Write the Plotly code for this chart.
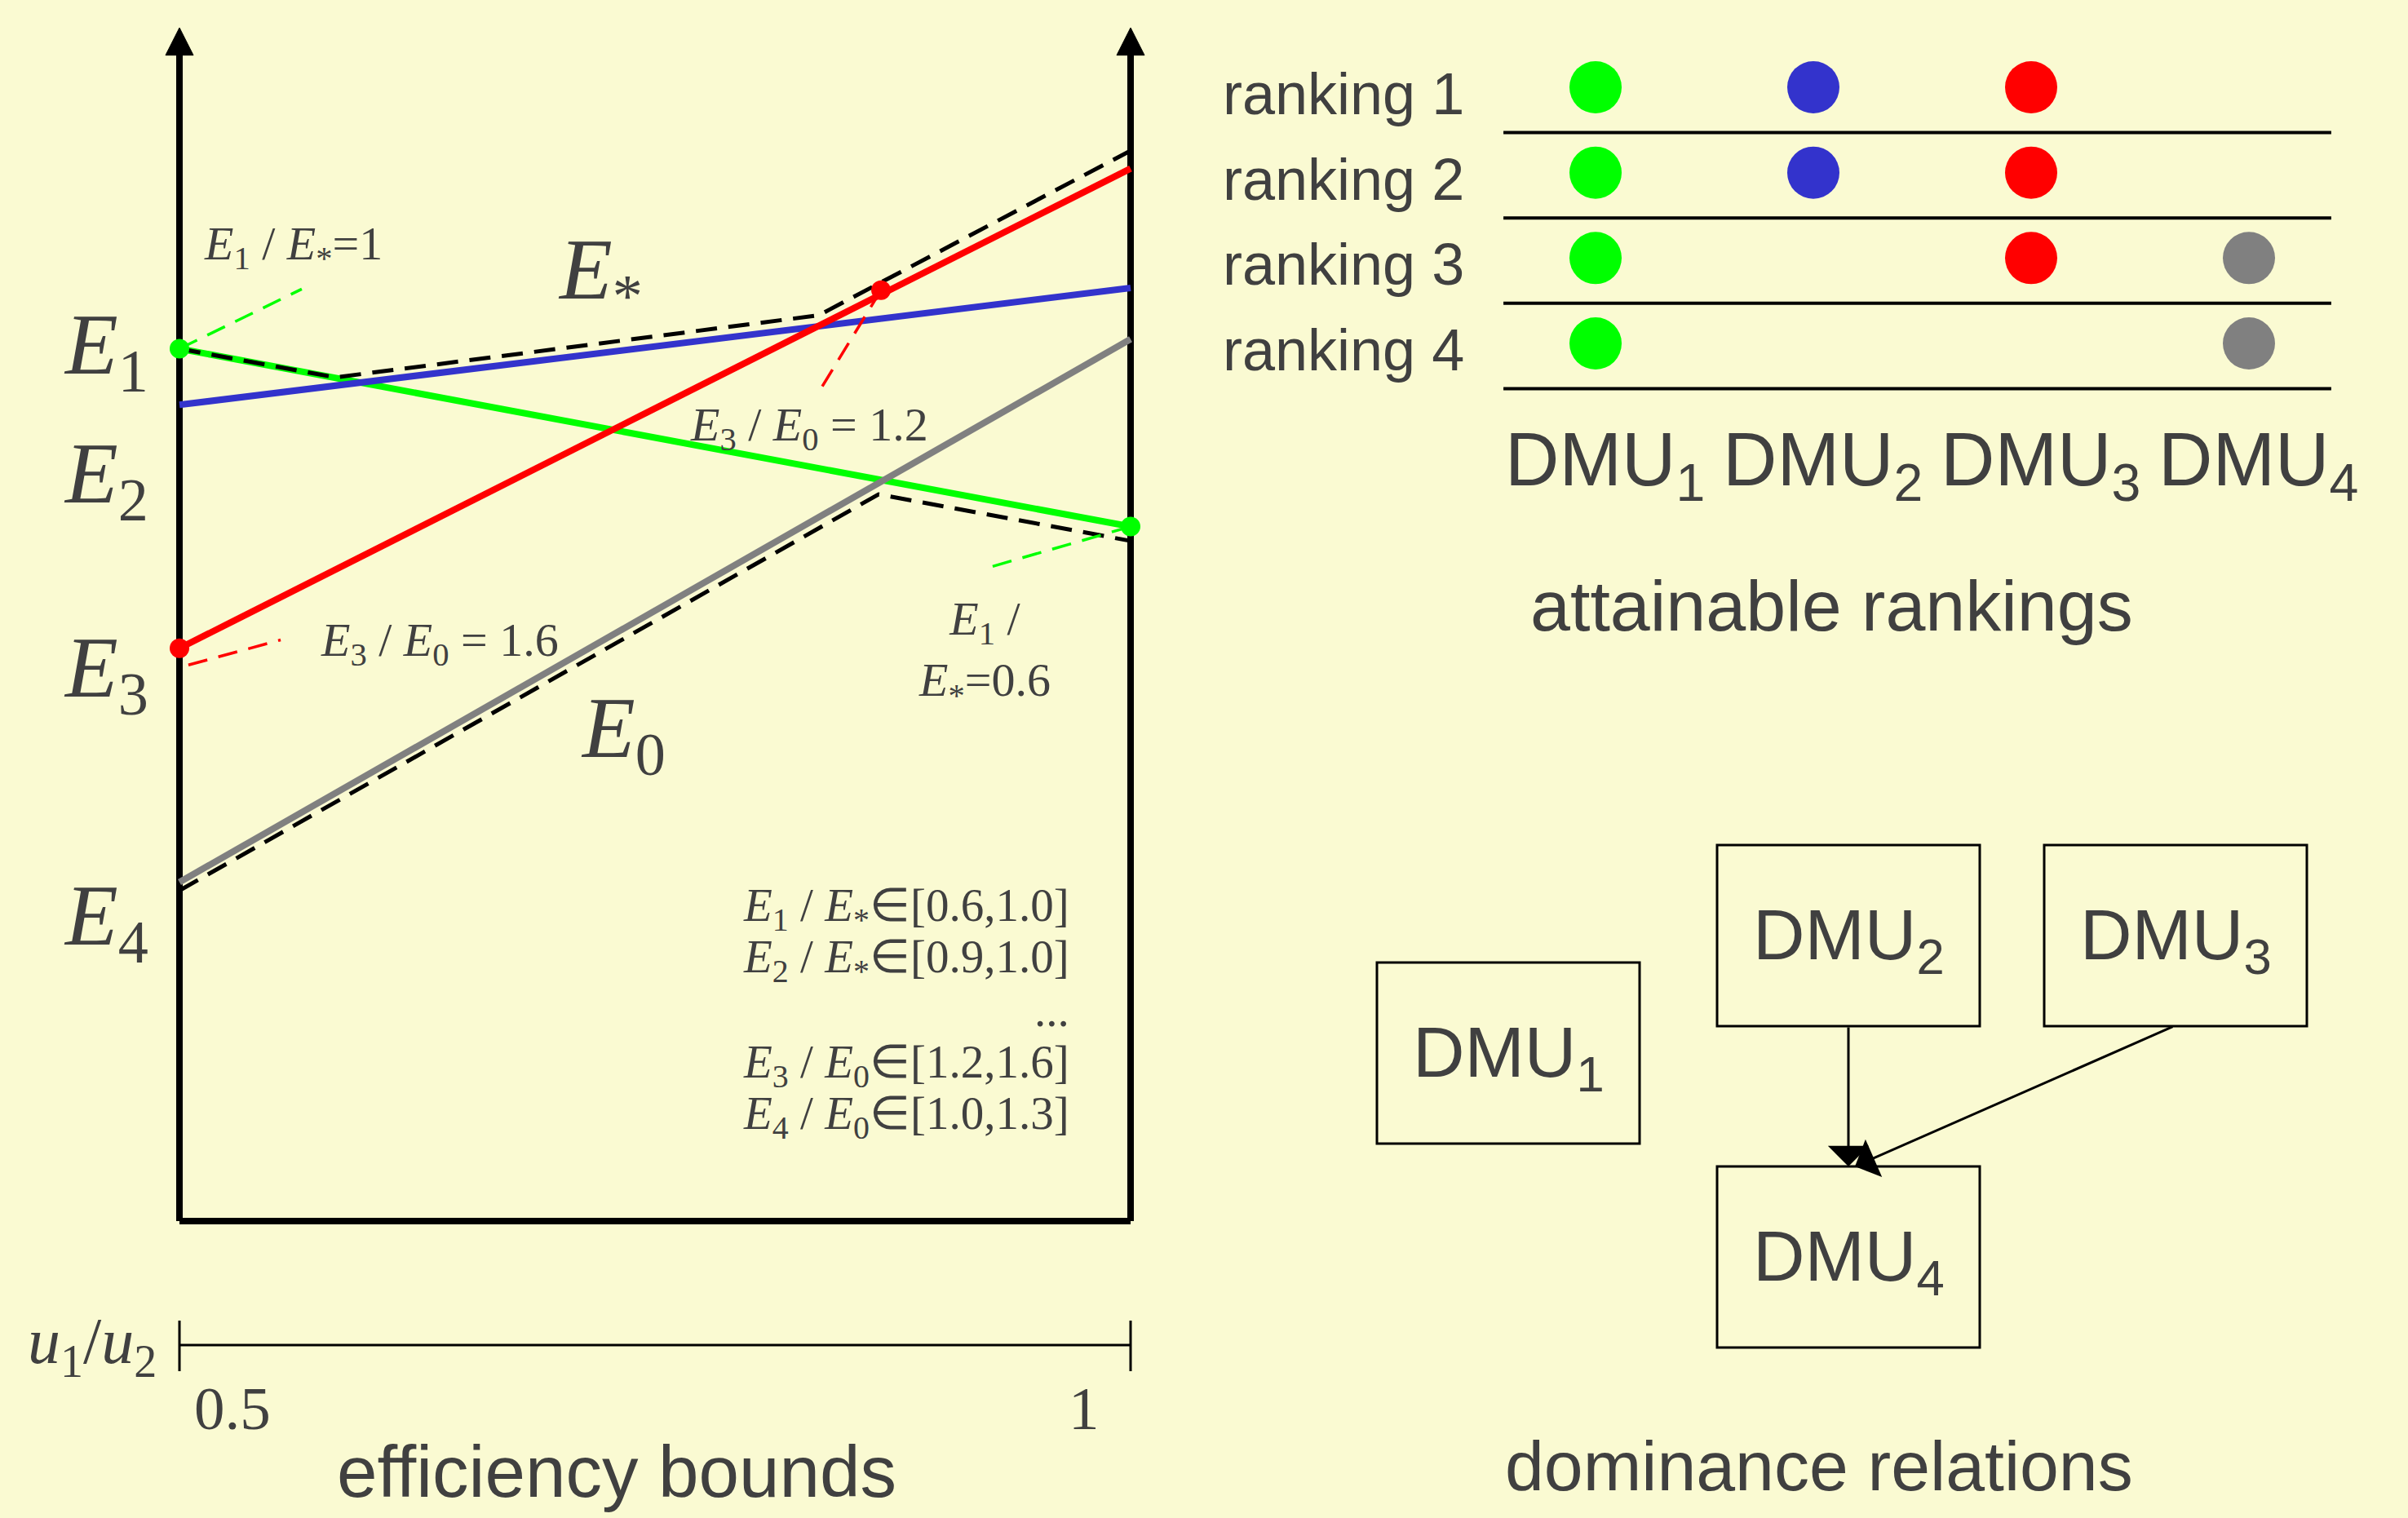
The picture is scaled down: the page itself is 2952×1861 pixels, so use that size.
import plotly.graph_objects as go

W, H = 2952, 1861
BG = "#FAFAD2"
TXT = "#404040"
SERIF = "Liberation Serif, Times New Roman, serif"
SANS = "Liberation Sans, Arial, sans-serif"

# ---------------- data ----------------
u_ends = [0.5, 1.0]
E1_vals = [7.31, 5.82]   # green
E2_vals = [6.84, 7.82]   # blue
E3_vals = [4.80, 8.82]   # red
E4_vals = [2.84, 7.39]   # gray
Estar_u = [0.5, 0.582, 0.836, 1.0]
Estar_vals = [7.31, 7.07, 7.59, 8.97]
E0_u = [0.5, 0.8675, 1.0]
E0_vals = [2.77, 6.09, 5.70]
green_pts_u = [0.5, 1.0]
green_pts_E = [7.31, 5.82]
red_pts_u = [0.5, 0.8688]
red_pts_E = [4.80, 7.80]
u_tick_vals = [0.5, 1.0]
u_tick_text = ["0.5", "1"]

line_colors = ["#00FF00", "#3333CC", "#FF0000", "#808080"]
e_labels = ["<i>E</i><sub>1</sub>", "<i>E</i><sub>2</sub>", "<i>E</i><sub>3</sub>", "<i>E</i><sub>4</sub>"]

bound_lines = [
    "<i>E</i><sub>1</sub> / <i>E</i><sub>*</sub>∈[0.6,1.0]",
    "<i>E</i><sub>2</sub> / <i>E</i><sub>*</sub>∈[0.9,1.0]",
    "...",
    "<i>E</i><sub>3</sub> / <i>E</i><sub>0</sub>∈[1.2,1.6]",
    "<i>E</i><sub>4</sub> / <i>E</i><sub>0</sub>∈[1.0,1.3]",
]

dmu_names = ["DMU<sub>1</sub>", "DMU<sub>2</sub>", "DMU<sub>3</sub>", "DMU<sub>4</sub>"]
dmu_colors = ["#00FF00", "#3333CC", "#FF0000", "#808080"]
ranking_labels = ["ranking 1", "ranking 2", "ranking 3", "ranking 4"]
ranking_members = [[1, 2, 3], [1, 2, 3], [1, 3, 4], [1, 4]]
dominance_edges = [(2, 4), (3, 4)]

# ---------------- layout helpers ----------------
def pxx(px):
    return px / W

def pxy(py):
    return 1 - py / H

# left chart mapping: u=0.5 -> px 220, u=1 -> px 1386 ; E=0 -> py 1497, E=10 -> py 34
UX0, UPX = 220, 2332.0
EY0, EPY = 1497, 146.3

def u2px(u):
    return UX0 + (u - 0.5) * UPX

fig = go.Figure()

# colored efficiency lines
for vals, col in zip([E1_vals, E2_vals, E3_vals, E4_vals], line_colors):
    fig.add_trace(go.Scatter(x=u_ends, y=vals, mode="lines",
                             line=dict(color=col, width=8), xaxis="x", yaxis="y"))
# envelopes
fig.add_trace(go.Scatter(x=Estar_u, y=Estar_vals, mode="lines",
                         line=dict(color="black", width=5, dash="26px,14px"), xaxis="x", yaxis="y"))
fig.add_trace(go.Scatter(x=E0_u, y=E0_vals, mode="lines",
                         line=dict(color="black", width=5, dash="26px,14px"), xaxis="x", yaxis="y"))

# leader lines (label pointers)
leaders = [
    ((0.5, 7.31), (0.5643, 7.81), "#00FF00"),
    ((0.8688, 7.80), (0.8358, 6.94), "#FF0000"),
    ((0.5047, 4.66), (0.5532, 4.87), "#FF0000"),
    ((1.0, 5.82), (0.925, 5.475), "#00FF00"),
]
for a, b, col in leaders:
    fig.add_trace(go.Scatter(x=[a[0], b[0]], y=[a[1], b[1]], mode="lines",
                             line=dict(color=col, width=3.5, dash="24px,14px"),
                             xaxis="x", yaxis="y"))

# end-point markers
fig.add_trace(go.Scatter(x=green_pts_u, y=green_pts_E, mode="markers", cliponaxis=False,
                         marker=dict(color="#00FF00", size=24), xaxis="x", yaxis="y"))
fig.add_trace(go.Scatter(x=red_pts_u, y=red_pts_E, mode="markers", cliponaxis=False,
                         marker=dict(color="#FF0000", size=24), xaxis="x", yaxis="y"))

# ranking dots
for r, members in enumerate(ranking_members, start=1):
    fig.add_trace(go.Scatter(x=members, y=[r] * len(members), mode="markers", cliponaxis=False,
                             marker=dict(color=[dmu_colors[m - 1] for m in members], size=64,
                                         line=dict(width=0)),
                             xaxis="x2", yaxis="y2"))

shapes = []
annotations = []

# left chart frame (axes) -- below traces
for u in u_ends:
    shapes.append(dict(type="line", xref="x", yref="y", x0=u, x1=u, y0=0, y1=9.8,
                       line=dict(color="black", width=8), layer="below"))
    hw = 17 / UPX
    shapes.append(dict(type="path", xref="x", yref="y",
                       path=f"M {u-hw},{9.77} L {u+hw},{9.77} L {u},{10.0} Z",
                       fillcolor="black", line=dict(color="black", width=1), layer="below"))
shapes.append(dict(type="line", xref="x", yref="y", x0=0.5, x1=1.0, y0=0, y1=0,
                   line=dict(color="black", width=8), layer="below"))

# bottom u1/u2 axis (paper coords derived from the u scale)
ax_y = 1649
shapes.append(dict(type="line", xref="paper", yref="paper",
                   x0=pxx(u2px(0.5)), x1=pxx(u2px(1.0)), y0=pxy(ax_y), y1=pxy(ax_y),
                   line=dict(color="black", width=3)))
for tv, tt in zip(u_tick_vals, u_tick_text):
    shapes.append(dict(type="line", xref="paper", yref="paper",
                       x0=pxx(u2px(tv)), x1=pxx(u2px(tv)), y0=pxy(1619), y1=pxy(1681),
                       line=dict(color="black", width=3)))
annotations.append(dict(x=pxx(u2px(0.5) + 16), y=pxy(1726), text=u_tick_text[0],
                        xanchor="left", yanchor="middle"))
annotations.append(dict(x=pxx(u2px(1.0) - 78), y=pxy(1726), text=u_tick_text[1],
                        xanchor="left", yanchor="middle"))
for a in annotations:
    a.update(xref="paper", yref="paper", showarrow=False, font=dict(family=SERIF, size=75, color=TXT))

def add_text(px, py, text, size, family=SERIF, xanchor="left", yanchor="middle", align="left"):
    annotations.append(dict(xref="paper", yref="paper", x=pxx(px), y=pxy(py), text=text,
                            showarrow=False, xanchor=xanchor, yanchor=yanchor, align=align,
                            font=dict(family=family, size=size, color=TXT)))

add_text(194, 1650, "<i>u</i><sub>1</sub>/<i>u</i><sub>2</sub>", 80, xanchor="right")

# E labels on the left
for lab, py in zip(e_labels, [430, 588, 826, 1130]):
    add_text(76, py, lab, 106)
add_text(682, 338, "<i>E</i><sub>*</sub>", 106)
add_text(710, 900, "<i>E</i><sub>0</sub>", 106)

# ratio labels
add_text(248, 303, "<i>E</i><sub>1</sub> / <i>E</i><sub>*</sub>=1", 58)
add_text(844, 524, "<i>E</i><sub>3</sub> / <i>E</i><sub>0</sub> = 1.2", 58)
add_text(391, 788, "<i>E</i><sub>3</sub> / <i>E</i><sub>0</sub> = 1.6", 58)
add_text(1207, 800, "<i>E</i><sub>1</sub> /<br><i>E</i><sub>*</sub>=0.6", 58, xanchor="center", align="center")

for txt, py in zip(bound_lines, [1114, 1177, 1238, 1306, 1369]):
    add_text(1313, py, txt, 57, xanchor="right")

add_text(756, 1804, "efficiency bounds", 89, family=SANS, xanchor="center")

# ranking panel
for r, lab in enumerate(ranking_labels, start=1):
    annotations.append(dict(xref="paper", yref="y2", x=pxx(1497), y=r, yshift=-8, text=lab,
                            showarrow=False, xanchor="left", yanchor="middle",
                            font=dict(family=SANS, size=72, color=TXT)))
    shapes.append(dict(type="line", xref="x2", yref="y2", x0=0.577, x1=4.378, y0=r + 0.53, y1=r + 0.53,
                       line=dict(color="black", width=4)))
for i, name in enumerate(dmu_names, start=1):
    annotations.append(dict(xref="x2", yref="paper", x=i, xshift=-113, y=pxy(570), text=name,
                            showarrow=False, xanchor="left", yanchor="middle",
                            font=dict(family=SANS, size=92, color=TXT)))
add_text(2245, 742, "attainable rankings", 88, family=SANS, xanchor="center")

# dominance panel (x3/y3 in pixel-like layout units)
node_centers = {1: (1849, 1291), 2: (2266, 1147), 3: (2667, 1147), 4: (2266, 1541)}
bw, bh = 161, 111
for i, name in enumerate(dmu_names, start=1):
    cx, cy = node_centers[i]
    shapes.append(dict(type="rect", xref="x3", yref="y3", x0=cx - bw, x1=cx + bw, y0=cy - bh, y1=cy + bh,
                       line=dict(color="black", width=3)))
    annotations.append(dict(xref="x3", yref="y3", x=cx, y=cy + 4, text=name, showarrow=False,
                            xanchor="center", yanchor="middle",
                            font=dict(family=SANS, size=88, color=TXT)))
for a, b in dominance_edges:
    ax_, ay_ = node_centers[a]
    bx_, by_ = node_centers[b]
    tipx = bx_ + (0 if ax_ == bx_ else 8)
    annotations.append(dict(xref="x3", yref="y3", axref="x3", ayref="y3",
                            x=tipx, y=by_ - bh, ax=ax_ if ax_ == bx_ else ax_ - 2, ay=ay_ + bh,
                            showarrow=True, arrowhead=1, arrowsize=2.8, arrowwidth=3,
                            arrowcolor="black", text=""))
add_text(2230, 1797, "dominance relations", 86, family=SANS, xanchor="center")

fig.update_layout(
    width=W, height=H, margin=dict(l=0, r=0, t=0, b=0),
    paper_bgcolor=BG, plot_bgcolor="rgba(0,0,0,0)",
    showlegend=False, hovermode=False,
    xaxis=dict(domain=[pxx(160), pxx(1446)], range=[0.5 - 60 / UPX, 1.0 + 60 / UPX], visible=False, anchor="y"),
    yaxis=dict(domain=[pxy(1520), pxy(20)], range=[-23 / EPY, 10 + 14 / EPY], visible=False, anchor="x"),
    xaxis2=dict(domain=[pxx(1820), pxx(2900)], range=[0.4906, 4.5356], visible=False, anchor="y2"),
    yaxis2=dict(domain=[pxy(500), pxy(50)], range=[4.7547, 0.4554], visible=False, anchor="x2"),
    xaxis3=dict(domain=[0, 1], range=[0, W], visible=False, anchor="y3"),
    yaxis3=dict(domain=[0, 1], range=[H, 0], visible=False, anchor="x3"),
    shapes=shapes, annotations=annotations,
)

fig.write_html("out.html", config={"displayModeBar": False},
               post_script="document.body.style.margin='0px';document.body.style.background='%s';" % BG)
